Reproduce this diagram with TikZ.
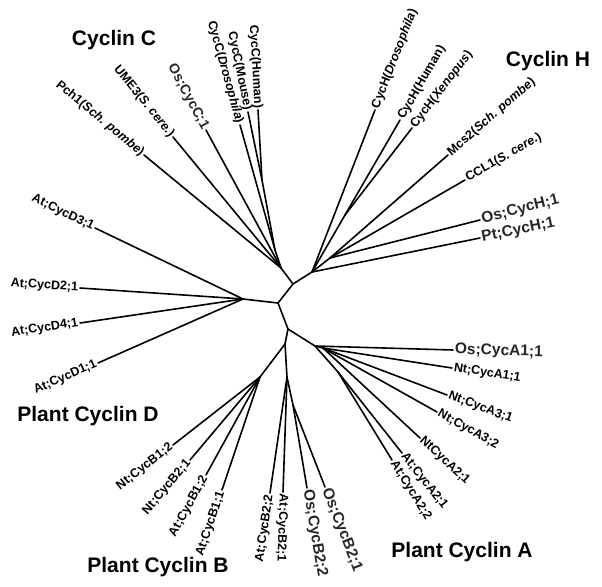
\documentclass[tikz,border=0pt]{standalone}
\usepackage{fontspec}
\setmainfont{Liberation Sans}
\usepackage{tikz}

\begin{document}
\begin{tikzpicture}[x=1pt, y=-1pt,
    branch/.style={line width=1.6pt, line cap=round},
    tip/.style={sloped, allow upside down, inner sep=1.2pt, font=\bfseries\fontsize{12.5}{12.5}\selectfont},
    tipout/.style={tip, anchor=west},
    tipin/.style={tip, anchor=east},
    osname/.style={font=\bfseries\fontsize{15.5}{16}\selectfont, text=black!85},
    clade/.style={font=\bfseries\fontsize{21}{21}\selectfont}]
  \useasboundingbox (0,0) rectangle (602,586);

  % inner points of the tree
  \foreach \n/\x/\y in {N1/293/284, N2/278/303, N3/288/329,
      Cc/281/268, Ca/275/250, Cm/262/180,
      Hh/312/272, Hv/345/215, Hm/330/258,
      Dd/243/299,
      Aa/315/346, An/323/348, At/338/372,
      Bb/285/344, Bl/260/377, Bv/287/377, Bo/293/405}
    \coordinate (\n) at (\x,\y);

  % tips
  \foreach \n/\x/\y in {pch/144/155, ume/173/137, osc/206/130, ccd/240/125, ccm/248/112, cch/258/110,
      chd/375/110, chh/400/120, chx/412/128, mcs/448/155, ccl/465/180, osh/480/220, pth/480/238,
      d3/95/228, d2/80/288, d4/80/323, d1/98/363,
      osa/453/350, na1/452/368, na31/447/395, na32/437/412, na2/420/438, aa21/402/453, aa22/392/460,
      nb12/173/445, nb21/190/460, ab12/206/475, ab11/222/490, ab22/270/493, ab21/283/492,
      osb22/307/488, osb21/325/487}
    \coordinate (\n) at (\x,\y);

  % inner branches
  \foreach \a/\b in {N1/N2, N2/N3, N1/Cc, Cc/Ca, Ca/Cm, N1/Hh, Hh/Hv, Hh/Hm,
      N2/Dd, N3/Aa, Aa/An, Aa/At, N3/Bb, Bb/Bl, Bb/Bv, Bv/Bo}
    \draw[branch] (\a) -- (\b);

  % tips whose names read away from the tree
  \foreach \p/\t/\l in {Hh/chd/{CycH(\textit{Drosophila})}, Hv/chh/{CycH(Human)},
      Hv/chx/{CycH(\textit{Xenopus})}, Hm/mcs/{Mcs2(\textit{Sch. pombe})},
      Hm/ccl/{CCL1(\textit{S. cere.})},
      An/na1/{Nt;CycA1;1}, An/na31/{Nt;CycA3;1}, An/na32/{Nt;CycA3;2}, An/na2/{NtCycA2;1},
      At/aa21/{At;CycA2;1}, At/aa22/{At;CycA2;2}, Bv/ab21/{At;CycB2;1}}
    \draw[branch] (\p) -- (\t) node[tipout, pos=1] (l-\t) {\l};

  % tips whose names read towards the tree
  \foreach \p/\t/\l in {Cc/pch/{Pch1(\textit{Sch. pombe})}, Cc/ume/{UME3(\textit{S. cere.})},
      Ca/ccd/{CycC(\textit{Drosophila})}, Cm/ccm/{CycC(Mouse)}, Cm/cch/{CycC(Human)},
      Dd/d3/{At;CycD3;1}, Dd/d2/{At;CycD2;1}, Dd/d4/{At;CycD4;1}, Dd/d1/{At;CycD1;1},
      Bl/nb12/{Nt;CycB1;2}, Bl/nb21/{Nt;CycB2;1}, Bl/ab12/{At;CycB1;2}, Bl/ab11/{At;CycB1;1},
      Bv/ab22/{At;CycB2;2}}
    \draw[branch] (\t) -- (\p) node[tipin, pos=0] (l-\t) {\l};

  % rice and pea
  \foreach \p/\t/\l in {Hm/osh/{Os;CycH;1}, Hh/pth/{Pt;CycH;1}, Aa/osa/{Os;CycA1;1},
      Bo/osb22/{Os;CycB2;2}, Bo/osb21/{Os;CycB2;1}}
    \draw[branch] (\p) -- (\t) node[tipout, osname, pos=1] (l-\t) {\l};
  \draw[branch] (osc) -- (Cc) node[tipin, osname, font=\bfseries\fontsize{14}{14}\selectfont, pos=0] (l-osc) {Os;CycC;1};

  % clades
  \node[clade] (cycC) at (114,40) {Cyclin C};
  \node[clade] (cycH) at (548,61) {Cyclin H};
  \node[clade] (cycD) at (88,416) {Plant Cyclin D};
  \node[clade] (cycB) at (158,567) {Plant Cyclin B};
  \node[clade] (cycA) at (462,552) {Plant Cyclin A};
\end{tikzpicture}
\end{document}
